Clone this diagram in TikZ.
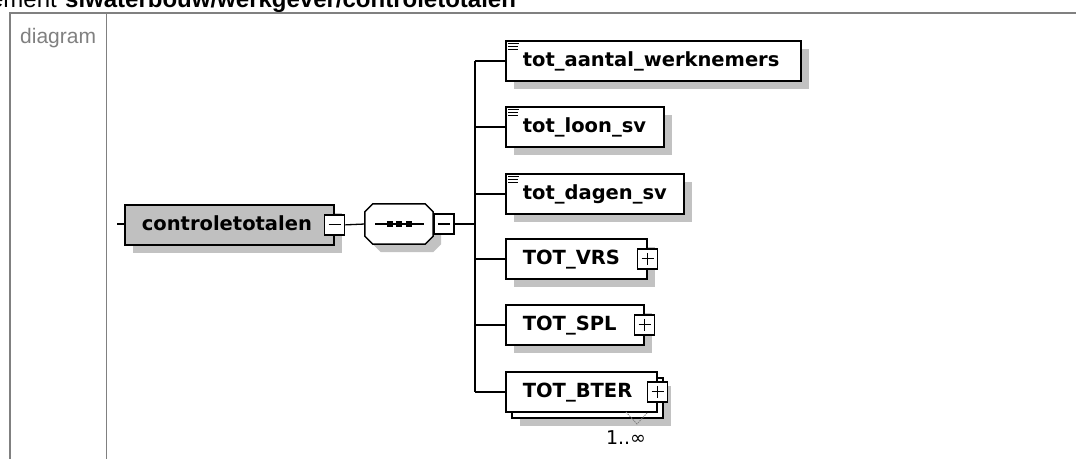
\documentclass[tikz,border=0pt]{standalone}
\usepackage{fontspec}
\setmainfont{Liberation Sans}
\newfontfamily\dvfont{DejaVu Sans}
\usetikzlibrary{shadows}
\definecolor{framegray}{HTML}{808080}
\definecolor{shgray}{HTML}{C2C2C2}
\definecolor{elfill}{HTML}{C0C0C0}
\begin{document}
\begin{tikzpicture}[x=1pt,y=-1pt,
  elbox/.style={draw=black, line width=1.7pt, fill=white, rectangle, inner xsep=17pt, inner ysep=0pt,
    minimum height=40pt, text height=14.5pt, text depth=3.5pt, anchor=north west,
    font=\dvfont\bfseries\fontsize{19.5}{20}\selectfont},
  shad/.style={drop shadow={shadow xshift=8pt, shadow yshift=-8pt, fill=shgray, opacity=1}},
  pmbox/.style={draw=black, line width=1.3pt, fill=white, minimum size=20pt, inner sep=0pt, rectangle},
  minusbox/.style={pmbox, path picture={
    \draw[line width=1.2pt] ([xshift=4pt]path picture bounding box.west) -- ([xshift=-4pt]path picture bounding box.east);}},
  plusbox/.style={pmbox, path picture={
    \draw[line width=1.2pt] ([xshift=4pt]path picture bounding box.west) -- ([xshift=-4pt]path picture bounding box.east);
    \draw[line width=1.2pt] ([yshift=-4pt]path picture bounding box.north) -- ([yshift=4pt]path picture bounding box.south);}},
  conn/.style={draw=black, line width=1.3pt},
  frame/.style={draw=framegray, line width=1.7pt},
  docicon/.style={draw=black, line width=0.9pt}
]
\useasboundingbox (0,0) rectangle (1076,459);

% title (cut off at top, as in the reference)
\node[anchor=base west, inner sep=0pt, font=\fontsize{24}{26}\selectfont\bfseries] (ttl) at (65,7) {siwaterbouw/werkgever/controletotalen};
\node[anchor=base east, inner sep=0pt, font=\fontsize{24}{26}\selectfont] (ttl0) at (57,7) {element};

% table frame
\draw[frame] (1076,13) -- (10,13) -- (10,459);
\draw[frame] (106.5,13) -- (106.5,459);
\node[anchor=base west, inner sep=0pt, text=framegray, font=\fontsize{21}{23}\selectfont] (lbl) at (20,43) {diagram};

% root element
\node[elbox, shad, fill=elfill, minimum width=209pt] (ctl) at (124,204) {\makebox[175pt][l]{controletotalen}};
\node[minusbox] (m1) at (ctl.east) {};
\coordinate (stub) at (117,224);
\draw[conn] (stub) -- (stub -| ctl.west);

% sequence compositor (octagon)
\node[rectangle, minimum width=68pt, minimum height=40pt, inner sep=0pt] (seq) at (399,224) {};
\path[draw=black, line width=1.5pt, fill=white, shad]
  ([xshift=8pt]seq.north west) -- ([xshift=-8pt]seq.north east) -- ([yshift=-8pt]seq.north east)
  -- ([yshift=8pt]seq.south east) -- ([xshift=-8pt]seq.south east) -- ([xshift=8pt]seq.south west)
  -- ([yshift=8pt]seq.south west) -- ([yshift=-8pt]seq.north west) -- cycle;
\draw[line width=1.2pt] ([xshift=-24pt]seq.center) -- ([xshift=25pt]seq.center);
\foreach \dx in {-9,0,10} {
  \fill ([xshift=\dx pt]seq.center) ++(-2.7,-2.7) rectangle ++(5.4,5.4);
}
\node[minusbox, anchor=west] (m2) at (seq.east) {};
\draw[conn] (m1.east) -- (seq.west);

% children
\node[elbox, shad, minimum width=295pt] (b1) at (505,40) {\makebox[261pt][l]{tot\_aantal\_werknemers}};
\node[elbox, shad, minimum width=158pt] (b2) at (505,106) {\makebox[124pt][l]{tot\_loon\_sv}};
\node[elbox, shad, minimum width=178pt] (b3) at (505,173) {\makebox[144pt][l]{tot\_dagen\_sv}};
\node[elbox, shad, minimum width=141pt] (b4) at (505,238) {\makebox[107pt][l]{TOT\_VRS}};
\node[plusbox] (p4) at (b4.east) {};
\node[elbox, shad, minimum width=138pt] (b5) at (505,304) {\makebox[104pt][l]{TOT\_SPL}};
\node[plusbox] (p5) at (b5.east) {};
\node[elbox, shad, minimum width=151pt] (b6back) at (511,377) {};
\node[elbox, minimum width=151pt] (b6) at (505,371) {\makebox[117pt][l]{TOT\_BTER}};
\node[plusbox] (p6) at (b6.east) {};

% document icons
\foreach \b in {b1,b2,b3} {
  \draw[docicon] ([shift={(3,3)}]\b.north west) -- ++(11,0);
  \draw[docicon] ([shift={(3,6)}]\b.north west) -- ++(10,0);
  \draw[docicon] ([shift={(3,9)}]\b.north west) -- ++(10,0);
}

% bus
\coordinate (bus) at (475,224);
\draw[conn] (m2.east) -- (bus);
\draw[conn] (b1.west -| bus) -- (b6.west -| bus);
\foreach \b in {b1,b2,b3,b4,b5,b6} {
  \draw[conn] (\b.west -| bus) -- (\b.west);
}

% multiplicity
\coordinate (va) at (626,412);
\coordinate (vb) at (637,424);
\coordinate (vc) at (647,413);
\draw[draw=gray, line width=0.8pt, dash pattern=on 1.5pt off 1pt] (va) -- (vb) -- (vc);
\node[inner sep=0pt, font=\dvfont\fontsize{19}{20}\selectfont] (mult) at (626,438) {1..∞};
\end{tikzpicture}
\end{document}
